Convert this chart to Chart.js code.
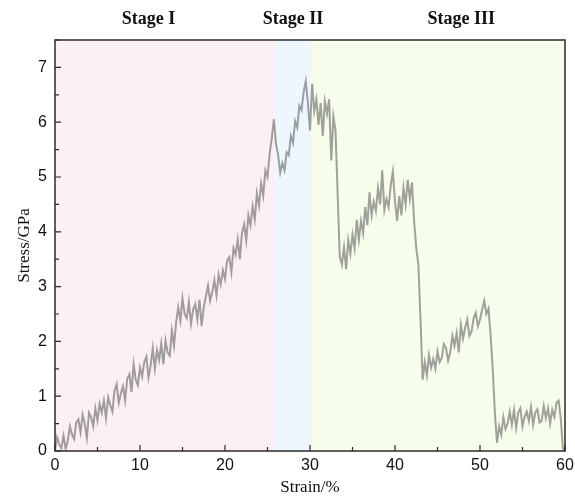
<!DOCTYPE html>
<html>
<head>
<meta charset="utf-8">
<style>
  html, body { margin: 0; padding: 0; background: #fff; }
  #wrap { width: 575px; height: 498px; }
</style>
<script src="https://cdn.jsdelivr.net/npm/chart.js/dist/chart.umd.min.js"></script>
</head>
<body>
<div id="wrap"><canvas id="stressChart" width="575" height="498"></canvas></div>
<script>
// strain (%) and stress (GPa)
const strain = [
  0.00, 0.25, 0.50, 0.75, 1.00, 1.25, 1.50, 1.75, 2.00, 2.25, 2.50, 2.75, 3.00, 3.25, 3.50, 3.75, 4.00, 4.25, 4.50, 4.75,
  5.00, 5.25, 5.50, 5.75, 6.00, 6.25, 6.50, 6.75, 7.00, 7.25, 7.50, 7.75, 8.00, 8.25, 8.50, 8.75, 9.00, 9.25, 9.50, 9.75,
  10.00, 10.25, 10.50, 10.75, 11.00, 11.25, 11.50, 11.75, 12.00, 12.25, 12.50, 12.75, 13.00, 13.25, 13.50, 13.75, 14.00, 14.25, 14.50, 14.75,
  15.00, 15.25, 15.50, 15.75, 16.00, 16.25, 16.50, 16.75, 17.00, 17.25, 17.50, 17.75, 18.00, 18.25, 18.50, 18.75, 19.00, 19.25, 19.50, 19.75,
  20.00, 20.25, 20.50, 20.75, 21.00, 21.25, 21.50, 21.75, 22.00, 22.25, 22.50, 22.75, 23.00, 23.25, 23.50, 23.75, 24.00, 24.25, 24.50, 24.75,
  25.00, 25.25, 25.50, 25.75, 26.00, 26.25, 26.50, 26.75, 27.00, 27.25, 27.50, 27.75, 28.00, 28.25, 28.50, 28.75, 29.00, 29.25, 29.50, 29.75,
  30.00, 30.25, 30.50, 30.75, 31.00, 31.25, 31.50, 31.75, 32.00, 32.25, 32.50, 32.75, 33.00, 33.25, 33.50, 33.75, 34.00, 34.25, 34.50, 34.75,
  35.00, 35.25, 35.50, 35.75, 36.00, 36.25, 36.50, 36.75, 37.00, 37.25, 37.50, 37.75, 38.00, 38.25, 38.50, 38.75, 39.00, 39.25, 39.50, 39.75,
  40.00, 40.25, 40.50, 40.75, 41.00, 41.25, 41.50, 41.75, 42.00, 42.25, 42.50, 42.75, 43.00, 43.25, 43.50, 43.75, 44.00, 44.25, 44.50, 44.75,
  45.00, 45.25, 45.50, 45.75, 46.00, 46.25, 46.50, 46.75, 47.00, 47.25, 47.50, 47.75, 48.00, 48.25, 48.50, 48.75, 49.00, 49.25, 49.50, 49.75,
  50.00, 50.25, 50.50, 50.75, 51.00, 51.25, 51.50, 51.75, 52.00, 52.25, 52.50, 52.75, 53.00, 53.25, 53.50, 53.75, 54.00, 54.25, 54.50, 54.75,
  55.00, 55.25, 55.50, 55.75, 56.00, 56.25, 56.50, 56.75, 57.00, 57.25, 57.50, 57.75, 58.00, 58.25, 58.50, 58.75, 59.00, 59.25, 59.50, 59.75,
  60.00
];
const stress = [
  0.02, 0.25, 0.12, 0.05, 0.28, 0.04, 0.18, 0.45, 0.30, 0.22, 0.52, 0.58, 0.34, 0.66, 0.50, 0.24, 0.70, 0.62, 0.45, 0.78,
  0.56, 0.86, 0.70, 0.92, 0.60, 0.98, 0.84, 0.72, 1.10, 1.22, 0.88, 1.05, 1.18, 0.92, 1.32, 1.40, 1.08, 1.58, 1.30, 1.20,
  1.52, 1.36, 1.62, 1.72, 1.34, 1.56, 1.88, 1.50, 1.84, 1.66, 1.96, 1.58, 2.02, 1.80, 1.74, 2.20, 1.92, 2.35, 2.62, 2.38,
  2.78, 2.50, 2.42, 2.72, 2.32, 2.58, 2.68, 2.40, 2.76, 2.28, 2.62, 2.82, 3.02, 2.74, 2.90, 3.12, 2.84, 3.22, 3.04, 3.30,
  3.14, 3.48, 3.54, 3.26, 3.70, 3.58, 3.86, 3.50, 3.98, 4.14, 3.84, 4.30, 4.12, 4.46, 4.22, 4.70, 4.48, 4.88, 4.66, 5.12,
  5.00, 5.42, 5.70, 6.05, 5.60, 5.40, 5.08, 5.25, 5.12, 5.45, 5.40, 5.75, 5.62, 6.02, 5.90, 6.30, 6.22, 6.55, 6.75, 6.35,
  5.85, 6.70, 6.20, 6.42, 5.95, 6.35, 5.75, 6.38, 6.15, 6.42, 5.30, 6.10, 5.85, 4.70, 3.55, 3.40, 3.72, 3.32, 3.85, 3.60,
  3.95, 3.70, 4.22, 3.85, 4.20, 3.98, 4.45, 4.12, 4.72, 4.30, 4.55, 4.38, 4.80, 4.50, 5.12, 4.40, 4.60, 4.45, 4.85, 5.10,
  4.55, 4.20, 4.65, 4.30, 4.80, 4.50, 4.95, 4.60, 4.90, 4.20, 3.70, 3.40, 2.40, 1.30, 1.62, 1.38, 1.75, 1.52, 1.68, 1.50,
  1.82, 1.62, 1.70, 1.95, 1.88, 1.65, 1.80, 2.10, 1.92, 2.15, 1.80, 2.30, 2.05, 2.25, 2.40, 2.10, 2.18, 2.42, 2.52, 2.28,
  2.40, 2.58, 2.74, 2.50, 2.60, 2.10, 1.50, 0.70, 0.15, 0.45, 0.30, 0.62, 0.40, 0.50, 0.72, 0.48, 0.75, 0.42, 0.70, 0.78,
  0.45, 0.62, 0.72, 0.55, 0.80, 0.48, 0.70, 0.76, 0.52, 0.55, 0.82, 0.60, 0.78, 0.50, 0.75, 0.62, 0.88, 0.92, 0.60, 0.05,
  0.00
];

// stage bands (strain edges) and their labels
const stageEdges = [0, 25.75, 30.1, 60];
const stageNames = ['Stage I', 'Stage II', 'Stage III'];
const stageColors = ['#fcf0f2', '#eef6fe', '#f6fdeb'];
const stageLabelAt = [11, 28, 47.8];

const stageBands = {
  id: 'stageBands',
  beforeDatasetsDraw(chart) {
    const { ctx, chartArea, scales: { x } } = chart;
    ctx.save();
    for (let i = 0; i < stageNames.length; i++) {
      const x0 = x.getPixelForValue(stageEdges[i]);
      const x1 = x.getPixelForValue(stageEdges[i + 1]);
      ctx.fillStyle = stageColors[i];
      ctx.fillRect(x0, chartArea.top, x1 - x0, chartArea.bottom - chartArea.top);
    }
    ctx.restore();
  },
  afterDraw(chart) {
    const { ctx, scales: { x } } = chart;
    ctx.save();
    ctx.font = 'bold 18px "Liberation Serif", "Times New Roman", serif';
    ctx.fillStyle = '#111';
    ctx.textAlign = 'center';
    ctx.textBaseline = 'middle';
    stageNames.forEach((name, i) => {
      ctx.fillText(name, x.getPixelForValue(stageLabelAt[i]), 19);
    });
    ctx.restore();
  }
};

// frame round the plot plus inward tick marks (major and minor)
const frameTicks = {
  id: 'frameTicks',
  afterDraw(chart) {
    const { ctx, chartArea: a, scales: { x, y } } = chart;
    ctx.save();
    ctx.strokeStyle = '#2a2a2a';
    ctx.lineWidth = 1.5;
    ctx.strokeRect(a.left, a.top, a.right - a.left, a.bottom - a.top);
    ctx.lineWidth = 1.2;
    ctx.beginPath();
    for (let v = 0; v <= 60; v += 5) {
      const px = x.getPixelForValue(v);
      const len = v % 10 === 0 ? 6 : 4;
      ctx.moveTo(px, a.bottom);
      ctx.lineTo(px, a.bottom - len);
    }
    for (let v = 0; v <= 7.5; v += 0.5) {
      const py = y.getPixelForValue(v);
      const len = Number.isInteger(v) ? 6 : 4;
      ctx.moveTo(a.left, py);
      ctx.lineTo(a.left + len, py);
    }
    ctx.stroke();
    ctx.restore();
  }
};

const tickFont = { family: '"Liberation Sans", Arial, sans-serif', size: 16 };
const titleFont = { family: '"Liberation Serif", "Times New Roman", serif', size: 17 };

new Chart(document.getElementById('stressChart'), {
  type: 'line',
  data: {
    datasets: [{
      data: strain.map((s, i) => ({ x: s, y: stress[i] })),
      borderColor: 'rgba(105,105,105,0.62)',
      borderWidth: 2,
      pointRadius: 0,
      tension: 0,
      fill: false
    }]
  },
  options: {
    responsive: false,
    animation: false,
    layout: { padding: { top: 40, right: 0, left: 0, bottom: 0 } },
    plugins: { legend: { display: false }, tooltip: { enabled: false } },
    scales: {
      x: {
        type: 'linear',
        min: 0,
        max: 60,
        grid: { display: false, drawTicks: false },
        border: { display: false },
        ticks: { stepSize: 10, color: '#111', font: tickFont, padding: 5 },
        title: { display: true, text: 'Strain/%', color: '#111', font: titleFont, padding: { top: 0, bottom: 0 } },
        afterFit(scale) { scale.height = 47; scale.paddingRight = 10; }
      },
      y: {
        min: 0,
        max: 7.5,
        grid: { display: false, drawTicks: false },
        border: { display: false },
        ticks: { stepSize: 1, color: '#111', font: tickFont, padding: 8 },
        afterBuildTicks(scale) { scale.ticks = scale.ticks.filter(t => Number.isInteger(t.value)); },
        title: { display: true, text: 'Stress/GPa', color: '#111', font: titleFont, padding: { top: 14, bottom: 0 } },
        afterFit(scale) { scale.width = 55; }
      }
    }
  },
  plugins: [stageBands, frameTicks]
});
</script>
</body>
</html>
